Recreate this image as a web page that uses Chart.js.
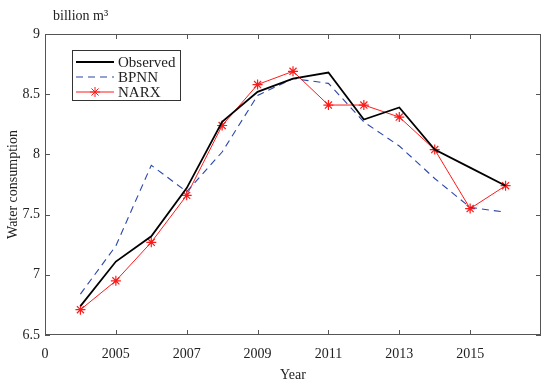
<!DOCTYPE html>
<html>
<head>
<meta charset="utf-8">
<script src="https://cdn.jsdelivr.net/npm/chart.js@4.4.0/dist/chart.umd.min.js"></script>
<style>
  body { margin: 0; background: #fff; }
  #wrap { width: 550px; height: 384px; position: relative; }
</style>
</head>
<body>
<div id="wrap"><canvas id="myChart"></canvas></div>
<script>
const years = [2004, 2005, 2006, 2007, 2008, 2009, 2010, 2011, 2012, 2013, 2014, 2015, 2016];
const observed = [6.74, 7.11, 7.32, 7.72, 8.27, 8.52, 8.63, 8.68, 8.29, 8.39, 8.04, 7.89, 7.74];
const bpnn = [6.84, 7.24, 7.91, 7.69, 8.02, 8.49, 8.63, 8.59, 8.27, 8.07, 7.80, 7.56, 7.52];
const narx = [6.71, 6.95, 7.27, 7.66, 8.24, 8.58, 8.69, 8.41, 8.41, 8.31, 8.04, 7.55, 7.74];
const xTicks = [2003, 2005, 2007, 2009, 2011, 2013, 2015];
const yTicks = [6.5, 7, 7.5, 8, 8.5, 9];

const serif = '"Liberation Serif", "DejaVu Serif", serif';

function pts(vals) {
  return vals.map((v, i) => ({ x: years[i], y: v }));
}

// inward ticks on all four sides, box, unit label and legend
const decor = {
  id: 'decor',
  afterDraw(chart) {
    const c = chart.ctx;
    const a = chart.chartArea;
    const xs = chart.scales.x, ys = chart.scales.y;
    c.save();
    c.strokeStyle = '#555';
    c.lineWidth = 1;
    c.strokeRect(a.left + 0.5, a.top + 0.5, a.right - a.left - 1, a.bottom - a.top - 1);
    c.beginPath();
    xTicks.slice(1).forEach(t => {
      const px = Math.round(xs.getPixelForValue(t)) + 0.5;
      c.moveTo(px, a.bottom); c.lineTo(px, a.bottom - 5);
      c.moveTo(px, a.top); c.lineTo(px, a.top + 5);
    });
    yTicks.forEach(t => {
      const py = Math.round(ys.getPixelForValue(t)) + 0.5;
      c.moveTo(a.left, py); c.lineTo(a.left + 5, py);
      c.moveTo(a.right, py); c.lineTo(a.right - 5, py);
    });
    c.stroke();

    c.fillStyle = '#222';
    c.font = '14px ' + serif;
    c.textBaseline = 'alphabetic';
    c.fillText('billion m\u00B3', 53, 20);

    // legend
    const lx = 72, ly = 50, lw = 108, lh = 50;
    c.fillStyle = '#fff';
    c.fillRect(lx, ly, lw, lh);
    c.strokeStyle = '#333';
    c.strokeRect(lx + 0.5, ly + 0.5, lw, lh);
    const items = chart.data.datasets;
    items.forEach((ds, i) => {
      const y = ly + 12 + i * 15;
      c.beginPath();
      c.strokeStyle = ds.borderColor;
      c.lineWidth = ds.borderWidth;
      c.setLineDash(ds.borderDash || []);
      c.moveTo(lx + 4, y); c.lineTo(lx + 42, y);
      c.stroke();
      c.setLineDash([]);
      if (ds.pointRadius > 0) {
        const cx = lx + 23, r = 5;
        c.beginPath();
        c.lineWidth = 1;
        for (let k = 0; k < 4; k++) {
          const ang = k * Math.PI / 4;
          c.moveTo(cx - r * Math.cos(ang), y - r * Math.sin(ang));
          c.lineTo(cx + r * Math.cos(ang), y + r * Math.sin(ang));
        }
        c.stroke();
      }
      c.fillStyle = '#222';
      c.font = '15px ' + serif;
      c.textBaseline = 'middle';
      c.fillText(ds.label, lx + 46, y + 1);
    });
    c.restore();
  }
};

const ctx = document.getElementById('myChart').getContext('2d');
const myChart = new Chart(ctx, {
  type: 'line',
  data: {
    datasets: [{
      label: 'Observed',
      data: pts(observed),
      borderColor: '#000',
      borderWidth: 1.8,
      pointRadius: 0,
      tension: 0
    }, {
      label: 'BPNN',
      data: pts(bpnn),
      borderColor: '#2a47a8',
      borderWidth: 1.1,
      borderDash: [7, 5],
      pointRadius: 0,
      tension: 0
    }, {
      label: 'NARX',
      data: pts(narx),
      borderColor: '#ff1a1a',
      borderWidth: 1,
      pointStyle: 'star',
      pointRadius: 5,
      pointBorderColor: '#ff1a1a',
      pointBorderWidth: 1.2,
      tension: 0
    }]
  },
  options: {
    responsive: true,
    maintainAspectRatio: false,
    animation: false,
    layout: { padding: { top: 34, right: 9, left: 0, bottom: 0 } },
    plugins: { legend: { display: false }, tooltip: { enabled: false } },
    scales: {
      x: {
        type: 'linear',
        min: 2003,
        max: 2017,
        afterBuildTicks: s => { s.ticks = xTicks.map(v => ({ value: v })); },
        afterFit: s => { s.height = 49; },
        grid: { display: false, drawTicks: false },
        border: { display: false },
        ticks: {
          padding: 11,
          color: '#222',
          font: { family: serif, size: 14 },
          maxRotation: 0,
          callback: v => v === 2003 ? '0' : String(v)
        },
        title: {
          display: true,
          text: 'Year',
          color: '#222',
          font: { family: serif, size: 14 },
          padding: { top: 1, bottom: 0 }
        }
      },
      y: {
        min: 6.5,
        max: 9,
        afterBuildTicks: s => { s.ticks = yTicks.map(v => ({ value: v })); },
        afterFit: s => { s.width = 45; },
        grid: { display: false, drawTicks: false },
        border: { display: false },
        ticks: {
          padding: 5,
          color: '#222',
          font: { family: serif, size: 14 },
          callback: v => String(v)
        },
        title: {
          display: true,
          text: 'Water consumption',
          color: '#222',
          font: { family: serif, size: 14 },
          padding: { top: 5, bottom: 0 }
        }
      }
    }
  },
  plugins: [decor]
});
</script>
</body>
</html>
